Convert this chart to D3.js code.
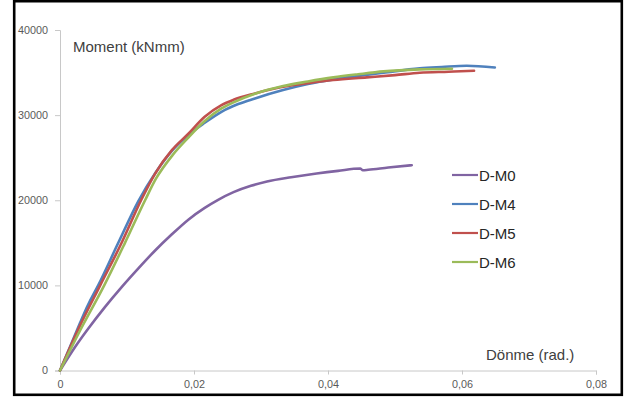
<!DOCTYPE html>
<html>
<head>
<meta charset="utf-8">
<script src="https://cdn.jsdelivr.net/npm/d3@7"></script>
<style>
  body { margin: 0; background: #fff; }
  text { font-family: "Liberation Sans", Arial, sans-serif; }
</style>
</head>
<body>
<svg width="634" height="400"></svg>
<script>
// series names + colours (Excel 2010 palette)
const seriesNames = ['D-M0', 'D-M4', 'D-M5', 'D-M6'];
const seriesColors = ['#8064A2', '#4F81BD', '#C0504D', '#9BBB59'];

// rotation (rad.) and moment (kNmm)
const m0Rot = [0, 0.0022, 0.0042, 0.0067, 0.0092, 0.0117, 0.0142, 0.0167, 0.0192, 0.0216, 0.0236, 0.0259, 0.0285, 0.0309, 0.0345, 0.0383, 0.0415, 0.0448, 0.0452, 0.0460, 0.0490, 0.0525];
const m0Mom = [0, 2700, 4900, 7450, 9800, 12000, 14100, 16000, 17750, 19100, 20050, 20950, 21700, 22200, 22700, 23137, 23450, 23725, 23530, 23580, 23850, 24118];

const m4Rot = [0, 0.0015, 0.0030, 0.0036, 0.0045, 0.0057, 0.0087, 0.0117, 0.0143, 0.0168, 0.0192, 0.0216, 0.0241, 0.0266, 0.0291, 0.0333, 0.0370, 0.0408, 0.0445, 0.0483, 0.0537, 0.0570, 0.0607, 0.0649];
const m4Mom = [0, 2800, 5600, 6700, 8200, 10000, 15000, 19900, 23300, 25900, 27700, 29100, 30392, 31300, 31961, 32941, 33650, 34196, 34600, 34980, 35490, 35650, 35800, 35600];

const m5Rot = [0, 0.0030, 0.0060, 0.0092, 0.0121, 0.0142, 0.0167, 0.0192, 0.0216, 0.0241, 0.0259, 0.0291, 0.0333, 0.0370, 0.0408, 0.0458, 0.0500, 0.0537, 0.0580, 0.0618];
const m5Mom = [0, 5300, 10000, 15000, 20000, 23137, 25882, 27843, 29804, 31176, 31800, 32549, 33333, 33750, 34118, 34431, 34700, 34980, 35100, 35216];

const m6Rot = [0, 0.0030, 0.0066, 0.0097, 0.0127, 0.0143, 0.0168, 0.0192, 0.0216, 0.0241, 0.0259, 0.0291, 0.0333, 0.0370, 0.0408, 0.0445, 0.0483, 0.0537, 0.0585];
const m6Mom = [0, 4700, 10000, 15000, 20000, 22500, 25300, 27400, 29300, 30784, 31500, 32500, 33412, 33950, 34431, 34800, 35137, 35373, 35450];

// tick values
const xTicks = [0, 0.02, 0.04, 0.06, 0.08];
const yTicks = [0, 10000, 20000, 30000, 40000];

const svg = d3.select('svg');

const x = d3.scaleLinear().domain([0, 0.08]).range([60, 596]);
const y = d3.scaleLinear().domain([0, 40000]).range([370.5, 30]);

// outer frame
svg.append('rect')
    .attr('x', 14.2)
    .attr('y', 1.2)
    .attr('width', 607.6)
    .attr('height', 393.6)
    .attr('fill', 'white')
    .attr('stroke', 'black')
    .attr('stroke-width', 2.6);

const axisColor = '#c8c8c8';
const labelColor = '#595959';

// y axis
const yAxis = svg.append('g')
    .attr('transform', 'translate(60,0)')
    .call(d3.axisLeft(y).tickValues(yTicks).tickSize(5).tickPadding(7).tickFormat(d3.format('d')));
// x axis (comma decimals)
const xAxis = svg.append('g')
    .attr('transform', 'translate(0,370.5)')
    .call(d3.axisBottom(x).tickValues(xTicks).tickSize(4).tickPadding(6)
        .tickFormat(d => d === 0 ? '0' : d3.format('.2f')(d).replace('.', ',')));

[yAxis, xAxis].forEach(ax => {
    ax.select('.domain').attr('stroke', axisColor);
    ax.selectAll('.tick line').attr('stroke', axisColor);
    ax.selectAll('.tick text')
        .attr('fill', labelColor)
        .style('font-size', '10.8px')
        .style('font-family', '"Liberation Sans", Arial, sans-serif');
});

// axis titles
svg.append('text')
    .attr('x', 73)
    .attr('y', 51.5)
    .attr('fill', '#404040')
    .style('font-size', '15px')
    .text('Moment (kNmm)');

svg.append('text')
    .attr('x', 486)
    .attr('y', 359.5)
    .attr('fill', '#404040')
    .style('font-size', '15px')
    .text('Dönme (rad.)');

// build the series from the arrays
const rots = [m0Rot, m4Rot, m5Rot, m6Rot];
const moms = [m0Mom, m4Mom, m5Mom, m6Mom];
const series = seriesNames.map((name, i) => ({
    name: name,
    color: seriesColors[i],
    values: rots[i].map((r, j) => ({ r: r, m: moms[i][j] }))
}));

const line = d3.line()
    .x(d => x(d.r))
    .y(d => y(d.m))
    .curve(d3.curveMonotoneX);

// draw M0 first, then M4, M5, M6 on top
svg.append('g')
    .selectAll('path')
    .data(series)
    .join('path')
    .attr('d', d => line(d.values))
    .attr('fill', 'none')
    .attr('stroke', d => d.color)
    .attr('stroke-width', 2.6)
    .attr('stroke-linejoin', 'round')
    .attr('stroke-linecap', 'round');

// legend
const legend = svg.append('g')
    .attr('transform', 'translate(452,175)');

const item = legend.selectAll('g')
    .data(series)
    .join('g')
    .attr('transform', (d, i) => `translate(0, ${i * 29})`);

item.append('line')
    .attr('x1', 0)
    .attr('x2', 26)
    .attr('stroke', d => d.color)
    .attr('stroke-width', 2.2);

item.append('text')
    .attr('x', 27)
    .attr('y', 5.5)
    .attr('fill', '#262626')
    .style('font-size', '15px')
    .text(d => d.name);
</script>
</body>
</html>
